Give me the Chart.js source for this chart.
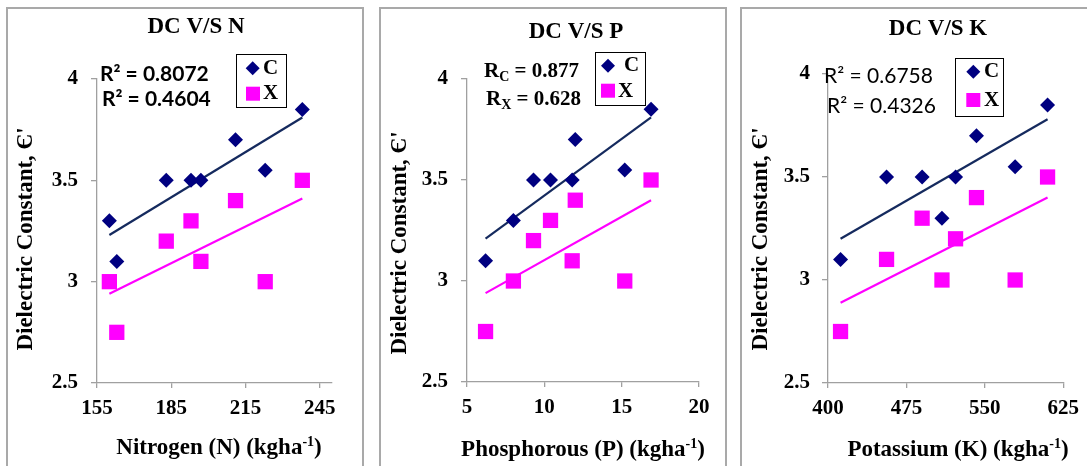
<!DOCTYPE html>
<html><head><meta charset="utf-8">
<script src="https://cdn.jsdelivr.net/npm/chart.js@4.4.1/dist/chart.umd.min.js"></script>
<style>
html,body{margin:0;padding:0;background:#fff;width:1087px;height:466px;overflow:hidden;}
.panel{position:absolute;box-sizing:border-box;border:2px solid #a9a9a9;background:#fff;}
canvas{position:absolute;}
</style></head><body>
<div class="panel" style="left:6px;top:7px;width:358px;height:480px"></div>
<div class="panel" style="left:379px;top:7px;width:348px;height:480px"></div>
<div class="panel" style="left:740px;top:7px;width:360px;height:480px"></div>
<canvas id="c1" width="354" height="457" style="left:8px;top:9px;width:354px;height:457px"></canvas>
<canvas id="c2" width="343" height="457" style="left:381px;top:9px;width:343px;height:457px"></canvas>
<canvas id="c3" width="345" height="457" style="left:742px;top:9px;width:345px;height:457px"></canvas>
<script>
// ---- data ----
const nitrogen = [160, 163, 183, 193, 197, 211, 223, 238];
const nitrogenC = [3.3, 3.1, 3.5, 3.5, 3.5, 3.7, 3.55, 3.85];
const nitrogenX = [3.0, 2.75, 3.2, 3.3, 3.1, 3.4, 3.0, 3.5];
const nitrogenTrendC = [3.23, 3.81];
const nitrogenTrendX = [2.94, 3.41];
const nitrogenR2 = ['0.8072', '0.4604'];
const nitrogenTicks = [155, 185, 215, 245];

const phosphorus = [6.2, 8.0, 9.3, 10.4, 11.8, 12.0, 15.2, 16.9];
const phosphorusC = [3.1, 3.3, 3.5, 3.5, 3.5, 3.7, 3.55, 3.85];
const phosphorusX = [2.75, 3.0, 3.2, 3.3, 3.1, 3.4, 3.0, 3.5];
const phosphorusTrendC = [3.21, 3.81];
const phosphorusTrendX = [2.94, 3.40];
const phosphorusR = ['0.877', '0.628'];
const phosphorusTicks = [5, 10, 15, 20];

const potassium = [412, 456, 490, 509, 522, 542, 579, 610];
const potassiumC = [3.1, 3.5, 3.5, 3.3, 3.5, 3.7, 3.55, 3.85];
const potassiumX = [2.75, 3.1, 3.3, 3.0, 3.2, 3.4, 3.0, 3.5];
const potassiumTrendC = [3.20, 3.78];
const potassiumTrendX = [2.89, 3.40];
const potassiumR2 = ['0.6758', '0.4326'];
const potassiumTicks = [400, 475, 550, 625];

const yTicks = [2.5, 3, 3.5, 4];
const seriesNames = ['C', 'X'];
const yTitle = "Dielectric Constant, Є'";

// ---- styles ----
const SERIF = '"Liberation Serif", "Times New Roman", serif';
const SANS = 'Lato, Carlito, "Open Sans", sans-serif';
const NAVY = '#000080';
const NAVY_LINE = '#152a5e';
const MAG = '#ff00ff';
const AXIS = '#a0a0a0';

function richWidth(ctx, parts) {
  let w = 0;
  parts.forEach(p => { ctx.font = p.font; w += ctx.measureText(p.t).width; });
  return w;
}
function drawRich(ctx, parts, x, y) {
  let cx = x;
  parts.forEach(p => {
    ctx.font = p.font;
    ctx.fillText(p.t, cx, y + (p.dy || 0));
    cx += ctx.measureText(p.t).width;
  });
}

const panelDecor = {
  id: 'panelDecor',
  afterDraw(chart, args, o) {
    const ctx = chart.ctx;
    ctx.save();
    ctx.fillStyle = '#000';
    ctx.textBaseline = 'middle';
    ctx.textAlign = 'center';
    ctx.font = 'bold 23px ' + SERIF;
    ctx.fillText(o.title, o.titleX, o.titleY);
    // y axis title (rotated)
    ctx.save();
    ctx.translate(o.yTitleX, o.yTitleY);
    ctx.rotate(-Math.PI / 2);
    ctx.font = 'bold 23px ' + SERIF;
    ctx.fillText(yTitle, 0, 0);
    ctx.restore();
    ctx.textAlign = 'left';
    o.labels.forEach(l => drawRich(ctx, l.parts, l.x, l.y));
    // x axis title with superscript
    const xt = o.xTitle;
    drawRich(ctx, xt.parts, xt.x - richWidth(ctx, xt.parts) / 2, xt.y);
    // legend box
    const L = o.legend;
    ctx.strokeStyle = '#000';
    ctx.lineWidth = 1;
    ctx.strokeRect(L.x + 0.5, L.y + 0.5, L.w, L.h);
    ctx.fillStyle = NAVY;
    ctx.beginPath();
    ctx.moveTo(L.dx - 7, L.dy); ctx.lineTo(L.dx, L.dy - 7); ctx.lineTo(L.dx + 7, L.dy); ctx.lineTo(L.dx, L.dy + 7);
    ctx.closePath(); ctx.fill();
    ctx.fillStyle = MAG;
    ctx.fillRect(L.sx - 7, L.sy - 7, 14, 14);
    ctx.fillStyle = '#000';
    ctx.font = 'bold 21px ' + SERIF;
    ctx.fillText(seriesNames[0], L.ctx, L.cty);
    ctx.fillText(seriesNames[1], L.xtx, L.xty);
    ctx.restore();
  }
};

const xTitleParts = (name) => [
  {t: name + ' (kgha', font: 'bold 23px ' + SERIF},
  {t: '-1', font: 'bold 14px ' + SERIF, dy: -6},
  {t: ')', font: 'bold 23px ' + SERIF}
];

function makeChart(id, cfg) {
  const pts = (xs, ys) => xs.map((x, i) => ({x: x, y: ys[i]}));
  const trend = (xs, ys) => [{x: Math.min(...xs), y: ys[0]}, {x: Math.max(...xs), y: ys[1]}];
  const W = cfg.W, H = 457;
  return new Chart(document.getElementById(id), {
    type: 'scatter',
    data: {
      datasets: [
        {label: seriesNames[0], data: pts(cfg.xs, cfg.c), pointStyle: 'rectRot', pointRadius: 7.5, pointHoverRadius: 7.5,
         backgroundColor: NAVY, borderColor: NAVY, borderWidth: 0, clip: false},
        {label: seriesNames[1], data: pts(cfg.xs, cfg.x), pointStyle: 'rect', pointRadius: 10.8, pointHoverRadius: 10.8,
         backgroundColor: MAG, borderColor: MAG, borderWidth: 0, clip: false},
        {label: 'Linear (C)', data: trend(cfg.xs, cfg.tc), showLine: true, pointRadius: 0, borderColor: NAVY_LINE, borderWidth: 2.2, fill: false},
        {label: 'Linear (X)', data: trend(cfg.xs, cfg.tx), showLine: true, pointRadius: 0, borderColor: MAG, borderWidth: 2.2, fill: false}
      ]
    },
    options: {
      responsive: false, animation: false, devicePixelRatio: 1,
      layout: {padding: {left: 0, right: W - cfg.right, top: cfg.top, bottom: H - cfg.bottom - 80}},
      plugins: {
        legend: {display: false}, tooltip: {enabled: false}, title: {display: false},
        panelDecor: cfg.decor
      },
      scales: {
        x: {
          type: 'linear', min: cfg.min, max: cfg.max,
          afterBuildTicks: s => { s.ticks = cfg.ticks.map(v => ({value: v})); },
          afterFit: s => { s.height = 80; },
          grid: {display: true, drawOnChartArea: false, drawTicks: true, tickLength: 5, color: AXIS, tickColor: AXIS, lineWidth: 1.3},
          border: {display: true, color: AXIS, width: 1.3},
          ticks: {color: '#000', font: {family: SERIF, size: 21, weight: 'bold'}, padding: cfg.xPad, maxRotation: 0, autoSkip: false,
                  callback: v => String(v)},
          title: {display: false}
        },
        y: {
          type: 'linear', min: 2.5, max: 4,
          afterBuildTicks: s => { s.ticks = yTicks.map(v => ({value: v})); },
          afterFit: s => { s.width = cfg.left; },
          grid: {display: true, drawOnChartArea: false, drawTicks: true, tickLength: 6, color: AXIS, tickColor: AXIS, lineWidth: 1.3},
          border: {display: true, color: AXIS, width: 1.3},
          ticks: {color: '#000', font: {family: SERIF, size: 21, weight: 'bold'}, padding: cfg.yPad, autoSkip: false,
                  callback: v => String(v)},
          title: {display: false}
        }
      }
    },
    plugins: [panelDecor]
  });
}

const r2Parts = (v, bold) => [{t: 'R² = ' + v, font: (bold ? 'bold ' : '') + '21px ' + SANS}];
const rSubParts = (sub, v) => [
  {t: 'R', font: 'bold 21px ' + SERIF},
  {t: sub, font: 'bold 14px ' + SERIF, dy: 5},
  {t: ' = ' + v, font: 'bold 21px ' + SERIF}
];

makeChart('c1', {
  W: 354, left: 89, right: 324, top: 70, bottom: 374, xPad: 8, yPad: 13,
  xs: nitrogen, c: nitrogenC, x: nitrogenX, tc: nitrogenTrendC, tx: nitrogenTrendX,
  min: 155, max: 250, ticks: nitrogenTicks,
  decor: {
    title: 'DC V/S N', titleX: 188, titleY: 18, yTitleX: 18, yTitleY: 230,
    xTitle: {parts: xTitleParts('Nitrogen (N)'), x: 211, y: 439},
    labels: [{parts: r2Parts(nitrogenR2[0], true), x: 92, y: 65}, {parts: r2Parts(nitrogenR2[1], true), x: 94, y: 90}],
    legend: {x: 228, y: 45, w: 50, h: 53, dx: 244.7, dy: 59.3, sx: 245, sy: 84.7, ctx: 255, cty: 60, xtx: 255, xty: 85}
  }
});

makeChart('c2', {
  W: 343, left: 86, right: 318, top: 70, bottom: 373, xPad: 8, yPad: 13,
  xs: phosphorus, c: phosphorusC, x: phosphorusX, tc: phosphorusTrendC, tx: phosphorusTrendX,
  min: 5, max: 20, ticks: phosphorusTicks,
  decor: {
    title: 'DC V/S P', titleX: 195, titleY: 23, yTitleX: 19, yTitleY: 234,
    xTitle: {parts: xTitleParts('Phosphorous (P)'), x: 202, y: 441},
    labels: [{parts: rSubParts('C', phosphorusR[0]), x: 103, y: 63}, {parts: rSubParts('X', phosphorusR[1]), x: 105, y: 91}],
    legend: {x: 214, y: 43, w: 50, h: 53, dx: 227, dy: 56.7, sx: 227, sy: 81.7, ctx: 243, cty: 57, xtx: 237, xty: 83}
  }
});

makeChart('c3', {
  W: 345, left: 86, right: 324, top: 65, bottom: 374, xPad: 8, yPad: 12,
  xs: potassium, c: potassiumC, x: potassiumX, tc: potassiumTrendC, tx: potassiumTrendX,
  min: 400, max: 625, ticks: potassiumTicks,
  decor: {
    title: 'DC V/S K', titleX: 196, titleY: 20, yTitleX: 19, yTitleY: 230,
    xTitle: {parts: xTitleParts('Potassium (K)'), x: 216, y: 441},
    labels: [{parts: r2Parts(potassiumR2[0], false), x: 82, y: 67}, {parts: r2Parts(potassiumR2[1], false), x: 85, y: 97}],
    legend: {x: 213, y: 49, w: 48, h: 58, dx: 231.3, dy: 62.7, sx: 231.3, sy: 91, ctx: 242, cty: 63, xtx: 242, xty: 92}
  }
});
</script>
</body></html>
